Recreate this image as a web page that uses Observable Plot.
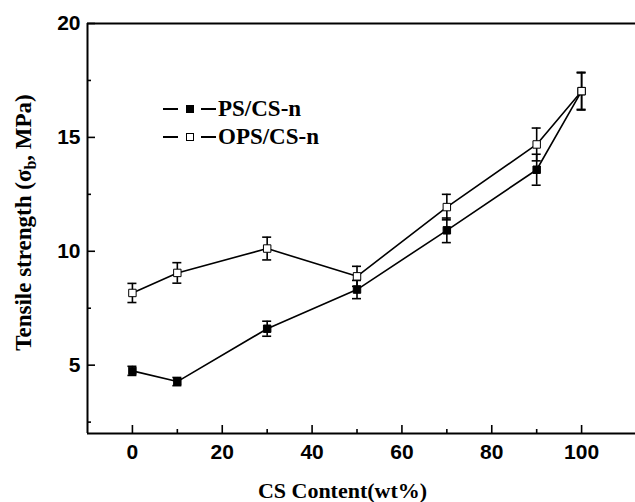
<!DOCTYPE html>
<html>
<head>
<meta charset="utf-8">
<script src="https://cdn.jsdelivr.net/npm/d3@7"></script>
<script src="https://cdn.jsdelivr.net/npm/@observablehq/plot@0.6"></script>
<style>
  html, body { margin: 0; padding: 0; background: #fff; }
  #wrap { position: relative; width: 635px; height: 502px; }
  #legend { position: absolute; left: 163px; top: 95px; font-family: "Liberation Serif", "Times New Roman", serif; font-weight: bold; font-size: 23px; color: #000; }
  .row { display: flex; align-items: center; height: 28px; white-space: nowrap; }
  .row svg { margin-right: 2px; }
</style>
</head>
<body>
<div id="wrap"><div id="legend"></div></div>
<script>
// ---- data ----
const csContent = [0, 10, 30, 50, 70, 90, 100];
const psValues = [4.75, 4.28, 6.6, 8.32, 10.92, 13.58, 17.03];
const psErrors = [0.2, 0.18, 0.33, 0.4, 0.54, 0.68, 0.8];
const opsValues = [8.17, 9.05, 10.12, 8.9, 11.94, 14.69, 17.03];
const opsErrors = [0.42, 0.45, 0.5, 0.44, 0.56, 0.72, 0.83];
const seriesNames = ["PS/CS-n", "OPS/CS-n"];
const xMajorTicks = [0, 20, 40, 60, 80, 100];
const xMinorTicks = [10, 30, 50, 70, 90];
const yMajorTicks = [5, 10, 15, 20];
const yMinorTicks = [2.5, 7.5, 12.5, 17.5];
const xDomain = [-10, 112];
const yDomain = [2, 20];
const xTitle = "CS Content(wt%)";
const yTitle = "Tensile strength (σb, MPa)";

const ps = csContent.map((x, i) => ({x, y: psValues[i], e: psErrors[i]}));
const ops = csContent.map((x, i) => ({x, y: opsValues[i], e: opsErrors[i]}));

const W = 635, H = 502, ML = 87, MT = 23, MR = 0, MB = 69;
const PW = W - ML - MR, PH = H - MT - MB;
const sans = "Liberation Sans, Arial, sans-serif";
const serif = "Liberation Serif, Times New Roman, serif";

function errMarks(data) {
  return [
    Plot.ruleX(data, {x: "x", y1: d => d.y - d.e, y2: d => d.y + d.e, stroke: "#000", strokeWidth: 1.6}),
    Plot.ruleY(data, {x1: "x", x2: "x", y: d => d.y + d.e, insetLeft: -4.5, insetRight: -4.5, stroke: "#000", strokeWidth: 1.6}),
    Plot.ruleY(data, {x1: "x", x2: "x", y: d => d.y - d.e, insetLeft: -4.5, insetRight: -4.5, stroke: "#000", strokeWidth: 1.6})
  ];
}

const chart = Plot.plot({
  width: W, height: H,
  marginLeft: ML, marginTop: MT, marginRight: MR, marginBottom: MB,
  style: {background: "transparent", color: "#000", overflow: "visible"},
  x: {domain: xDomain, label: null},
  y: {domain: yDomain, label: null},
  marks: [
    // axis lines
    Plot.ruleY([yDomain[0]], {stroke: "#000", strokeWidth: 2}),
    Plot.ruleY([yDomain[1]], {stroke: "#000", strokeWidth: 2}),
    Plot.ruleX([xDomain[0]], {stroke: "#000", strokeWidth: 2}),
    // inward ticks
    Plot.ruleX(xMajorTicks, {stroke: "#000", strokeWidth: 1.6, insetTop: PH - 8}),
    Plot.ruleX(xMinorTicks, {stroke: "#000", strokeWidth: 1.6, insetTop: PH - 4}),
    Plot.ruleY(yMajorTicks, {stroke: "#000", strokeWidth: 1.6, insetRight: PW - 8}),
    Plot.ruleY(yMinorTicks, {stroke: "#000", strokeWidth: 1.6, insetRight: PW - 4}),
    // tick labels
    Plot.axisX(xMajorTicks, {tickSize: 0, tickPadding: 11, fontSize: 21, fontWeight: "bold", fontFamily: sans, label: null}),
    Plot.axisY(yMajorTicks, {tickSize: 0, tickPadding: 7, fontSize: 21, fontWeight: "bold", fontFamily: sans, label: null}),
    // titles
    Plot.text([xTitle], {text: d => d, frameAnchor: "bottom", dx: -19, dy: 57, fontSize: 22, fontWeight: "bold", fontFamily: serif, lineAnchor: "middle"}),
    Plot.text([yTitle], {text: d => d, frameAnchor: "left", textAnchor: "middle", rotate: -90, dx: -64, dy: -6, fontSize: 23, fontWeight: "bold", fontFamily: serif, lineAnchor: "middle"}),
    // error bars
    ...errMarks(ps),
    ...errMarks(ops),
    // lines
    Plot.line(ps, {x: "x", y: "y", stroke: "#000", strokeWidth: 1.6}),
    Plot.line(ops, {x: "x", y: "y", stroke: "#000", strokeWidth: 1.6}),
    // markers
    Plot.dot(ps, {x: "x", y: "y", symbol: "square", r: 4.2, fill: "#000", stroke: "#000", strokeWidth: 1}),
    Plot.dot(ops, {x: "x", y: "y", symbol: "square", r: 4.2, fill: "#fff", stroke: "#000", strokeWidth: 1})
  ]
});

// subscript b in the y title
d3.select(chart).selectAll("text").each(function() {
  if (this.textContent === yTitle) {
    const t = d3.select(this);
    t.text(null);
    t.append("tspan").text("Tensile strength (σ");
    t.append("tspan").attr("dy", 5).attr("font-size", 16).text("b");
    t.append("tspan").attr("dy", -5).text(", MPa)");
  }
});

const wrap = document.getElementById("wrap");
wrap.insertBefore(chart, wrap.firstChild);

// legend
const legend = d3.select("#legend");
seriesNames.forEach((name, i) => {
  const row = legend.append("div").attr("class", "row");
  const s = row.append("svg").attr("width", 53).attr("height", 12);
  s.append("line").attr("x1", 0).attr("x2", 15).attr("y1", 6).attr("y2", 6).attr("stroke", "#000").attr("stroke-width", 2);
  s.append("line").attr("x1", 38).attr("x2", 53).attr("y1", 6).attr("y2", 6).attr("stroke", "#000").attr("stroke-width", 2);
  s.append("rect").attr("x", 23.5).attr("y", 2.5).attr("width", 7).attr("height", 7)
    .attr("fill", i === 0 ? "#000" : "#fff").attr("stroke", "#000").attr("stroke-width", 1);
  row.append("span").text(name);
});
</script>
</body>
</html>
